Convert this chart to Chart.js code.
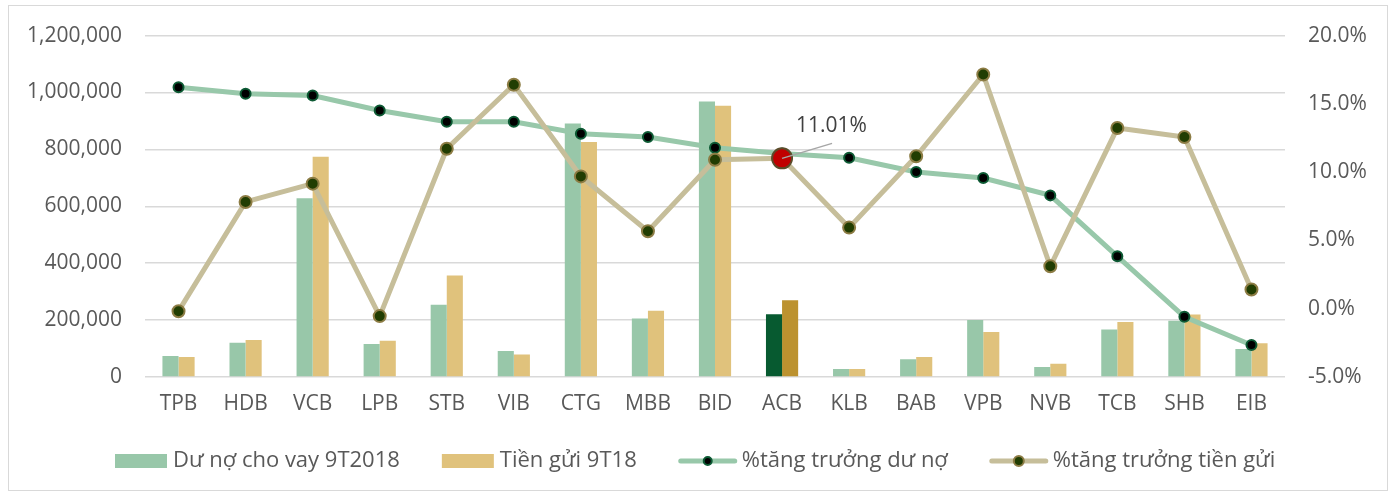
<!DOCTYPE html>
<html>
<head>
<meta charset="utf-8">
<script src="https://cdn.jsdelivr.net/npm/chart.js@4"></script>
<style>
  html, body { margin: 0; padding: 0; background: #ffffff; }
  #wrap { width: 1391px; height: 495px; position: relative; }
</style>
</head>
<body>
<div id="wrap"><canvas id="c" width="1391" height="495"></canvas></div>
<script>
const categories = ['TPB','HDB','VCB','LPB','STB','VIB','CTG','MBB','BID','ACB','KLB','BAB','VPB','NVB','TCB','SHB','EIB'];
const loans = [74000,120000,628000,116000,254000,91000,891000,206000,968000,221000,28000,62000,200000,35000,167000,198000,98000];
const deposits = [70000,130000,774000,127000,357000,79000,826000,233000,953000,270000,28000,70000,158000,47000,193000,220000,119000];
const loanGrowth = [16.22,15.74,15.61,14.52,13.69,13.69,12.81,12.57,11.79,11.37,11.06,10.01,9.57,8.30,3.84,-0.59,-2.66];
const depositGrowth = [-0.18,7.82,9.16,-0.54,11.71,16.40,9.69,5.67,10.91,11.01,5.94,11.16,17.15,3.11,13.23,12.57,1.41];
const leftTicks = [0,200000,400000,600000,800000,1000000,1200000];
const rightTicks = [-5,0,5,10,15,20];
const seriesNames = ['Dư nợ cho vay 9T2018','Tiền gửi 9T18','%tăng trưởng dư nợ','%tăng trưởng tiền gửi'];
const highlight = 'ACB';

const FONT = '"Open Sans", "Liberation Sans", Arial, sans-serif';
const TXT = '#595959';
const C = {
  loanBar: '#98c7a9', loanBarHi: '#075a30',
  depBar: '#e0c27c', depBarHi: '#bc922f',
  loanLine: '#98c8aa', depLine: '#c6be9a',
  loanPt: '#000000', loanPtBorder: '#0d5a34',
  depPt: '#213d02', depPtBorder: '#8c7c44',
  hiPt: '#c00000', hiPtBorder: '#5b4c2a'
};
const hiIdx = categories.indexOf(highlight);

const legendPlugin = {
  id: 'customLegend',
  afterDraw(chart) {
    const ctx = chart.ctx;
    ctx.save();
    ctx.font = '22px ' + FONT;
    ctx.textBaseline = 'middle';
    const y = 461;
    let x = 115;
    const gapItem = 42;
    const items = [
      {type: 'box', color: C.loanBar, text: seriesNames[0]},
      {type: 'box', color: C.depBar, text: seriesNames[1]},
      {type: 'line', color: C.loanLine, pt: C.loanPt, ptb: C.loanPtBorder, r: 4, text: seriesNames[2]},
      {type: 'line', color: C.depLine, pt: C.depPt, ptb: C.depPtBorder, r: 5, text: seriesNames[3]}
    ];
    items.forEach(it => {
      if (it.type === 'box') {
        ctx.fillStyle = it.color;
        ctx.fillRect(x, y - 7, 52, 14);
        x += 52 + 6;
      } else {
        ctx.strokeStyle = it.color;
        ctx.lineWidth = 5;
        ctx.lineCap = 'round';
        ctx.beginPath();
        ctx.moveTo(x + 2, y);
        ctx.lineTo(x + 56, y);
        ctx.stroke();
        ctx.beginPath();
        ctx.arc(x + 29, y, it.r, 0, Math.PI * 2);
        ctx.fillStyle = it.pt;
        ctx.fill();
        ctx.lineWidth = 2;
        ctx.strokeStyle = it.ptb;
        ctx.stroke();
        x += 58 + 5;
      }
      ctx.fillStyle = TXT;
      ctx.textAlign = 'left';
      ctx.fillText(it.text, x, y);
      x += ctx.measureText(it.text).width + gapItem;
    });
    ctx.restore();
  }
};

const annotationPlugin = {
  id: 'acbLabel',
  afterDatasetsDraw(chart) {
    const meta = chart.getDatasetMeta(3);
    const pt = meta.data[hiIdx];
    if (!pt) return;
    const ctx = chart.ctx;
    ctx.save();
    ctx.strokeStyle = '#a6a6a6';
    ctx.lineWidth = 1.5;
    ctx.beginPath();
    ctx.moveTo(pt.x, pt.y);
    ctx.lineTo(pt.x + 50, pt.y - 15);
    ctx.stroke();
    ctx.font = '21px ' + FONT;
    ctx.fillStyle = '#404040';
    ctx.textAlign = 'left';
    ctx.textBaseline = 'middle';
    ctx.fillText(depositGrowth[hiIdx].toFixed(2) + '%', pt.x + 14, pt.y - 32);
    ctx.restore();
  }
};

const framePlugin = {
  id: 'frame',
  beforeDraw(chart) {
    const ctx = chart.ctx;
    ctx.save();
    ctx.fillStyle = '#ffffff';
    ctx.fillRect(0, 0, chart.width, chart.height);
    ctx.restore();
  },
  afterDraw(chart) {
    const ctx = chart.ctx;
    ctx.save();
    ctx.strokeStyle = '#d9d9d9';
    ctx.lineWidth = 1;
    ctx.strokeRect(8.5, 5.5, 1379, 485);
    ctx.restore();
  }
};

new Chart(document.getElementById('c'), {
  data: {
    labels: categories,
    datasets: [
      {
        type: 'bar', label: seriesNames[0], data: loans, yAxisID: 'y', order: 2,
        backgroundColor: categories.map(c => c === highlight ? C.loanBarHi : C.loanBar),
        categoryPercentage: 0.48, barPercentage: 1.0
      },
      {
        type: 'bar', label: seriesNames[1], data: deposits, yAxisID: 'y', order: 3,
        backgroundColor: categories.map(c => c === highlight ? C.depBarHi : C.depBar),
        categoryPercentage: 0.48, barPercentage: 1.0
      },
      {
        type: 'line', label: seriesNames[2], data: loanGrowth, yAxisID: 'y1', order: 1,
        borderColor: C.loanLine, borderWidth: 5, tension: 0,
        pointRadius: 5, pointBackgroundColor: C.loanPt, pointBorderColor: C.loanPtBorder, pointBorderWidth: 2,
        pointHoverRadius: 5
      },
      {
        type: 'line', label: seriesNames[3], data: depositGrowth, yAxisID: 'y1', order: 0,
        borderColor: C.depLine, borderWidth: 5, tension: 0,
        pointRadius: categories.map(c => c === highlight ? 10 : 6),
        pointBackgroundColor: categories.map(c => c === highlight ? C.hiPt : C.depPt),
        pointBorderColor: categories.map(c => c === highlight ? C.hiPtBorder : C.depPtBorder),
        pointBorderWidth: 2,
        pointHoverRadius: 6
      }
    ]
  },
  options: {
    responsive: false,
    animation: false,
    devicePixelRatio: 1,
    layout: { padding: { top: 35, bottom: 77, left: 0, right: 0 } },
    plugins: { legend: { display: false }, tooltip: { enabled: false } },
    scales: {
      x: {
        grid: { display: false, drawTicks: false },
        border: { display: false },
        ticks: { color: TXT, font: { family: FONT, size: 21 }, padding: 14 },
        afterFit(s) { s.height = 41; }
      },
      y: {
        position: 'left', min: 0, max: 1200000,
        afterBuildTicks(s) { s.ticks = leftTicks.map(v => ({ value: v })); },
        grid: { color: '#d9d9d9', lineWidth: 1.5, drawTicks: false },
        border: { display: false },
        ticks: {
          color: TXT, font: { family: FONT, size: 21 }, padding: 23,
          callback: v => Number(v).toLocaleString('en-US')
        },
        afterFit(s) { s.width = 145; }
      },
      y1: {
        position: 'right', min: -5, max: 20,
        afterBuildTicks(s) { s.ticks = rightTicks.map(v => ({ value: v })); },
        grid: { display: false, drawTicks: false },
        border: { display: false },
        ticks: {
          color: TXT, font: { family: FONT, size: 21 }, padding: 23,
          callback: v => Number(v).toFixed(1) + '%'
        },
        afterFit(s) { s.width = 106; }
      }
    }
  },
  plugins: [framePlugin, legendPlugin, annotationPlugin]
});
</script>
</body>
</html>
